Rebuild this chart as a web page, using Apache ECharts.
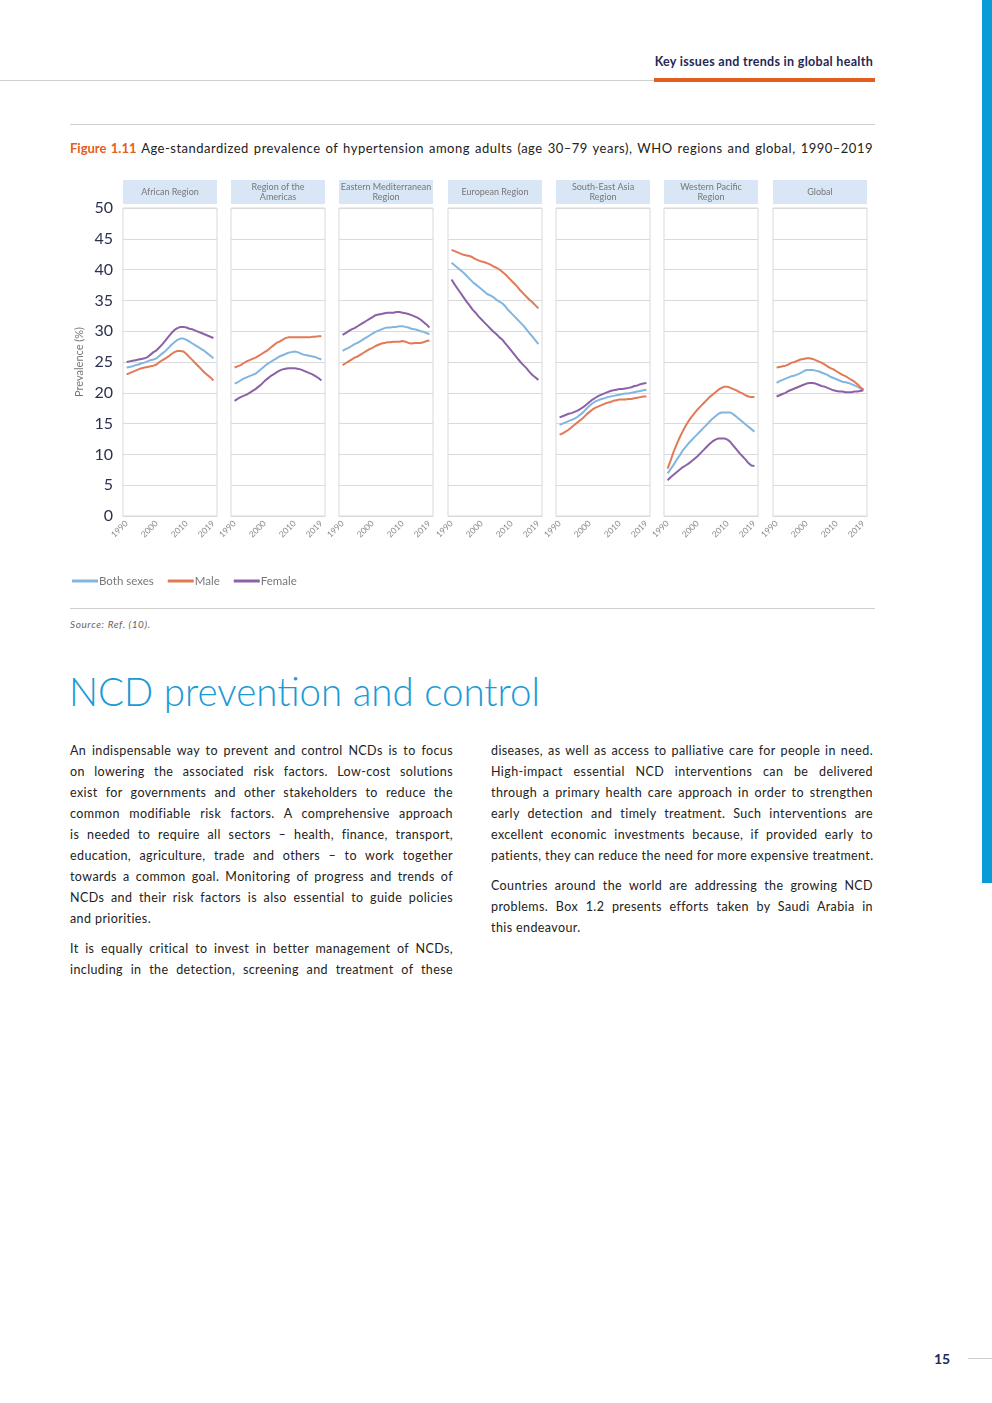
<!DOCTYPE html>
<html><head><meta charset="utf-8">
<script src="https://cdn.jsdelivr.net/npm/echarts@6/dist/echarts.min.js"></script>
<style>
body{margin:0;background:#fff;}
#page{position:relative;width:992px;height:1403px;overflow:hidden;font-family:Lato,"Open Sans",sans-serif;color:#222;}
.abs{position:absolute;}
.ln{position:absolute;white-space:nowrap;text-align:justify;text-align-last:justify;font-size:12.5px;line-height:21px;height:21px;letter-spacing:0.4px;}
.ln.l{text-align-last:left;}
</style></head>
<body><div id="page">
<div class="abs" style="left:982px;top:0;width:10px;height:883px;background:#0a9ad8"></div>
<div class="abs" style="left:500px;width:373px;top:54px;text-align:right;font-size:12.5px;letter-spacing:0.3px;font-weight:bold;color:#1f2855">Key issues and trends in global health</div>
<div class="abs" style="left:0;top:80px;width:875px;height:1px;background:#cfcfcf"></div>
<div class="abs" style="left:654px;top:78px;width:221px;height:4px;background:#e35e1c"></div>
<div class="abs" style="left:70px;top:124px;width:805px;height:1px;background:#cfcfcf"></div>
<div class="ln" style="left:70px;width:803px;top:138px;font-size:13px;letter-spacing:0.5px"><span style="color:#e35e1c;font-weight:bold;letter-spacing:0">Figure 1.11</span> Age-standardized prevalence of hypertension among adults (age 30–79 years), WHO regions and global, 1990–2019</div>
<div id="chart" class="abs" style="left:0;top:170px;width:900px;height:430px"></div>
<div class="abs" style="left:70px;top:608px;width:805px;height:1px;background:#cfcfcf"></div>
<div class="abs" style="left:70px;top:618px;font-size:10px;letter-spacing:0.6px;font-style:italic;color:#666">Source: Ref. (10).</div>
<div class="abs" style="left:69px;top:668px;font-size:38.5px;font-weight:300;color:#1a9ad6;white-space:nowrap">NCD prevention and control</div>

<div class="ln" style="left:70px;width:383px;top:740px">An indispensable way to prevent and control NCDs is to focus</div>
<div class="ln" style="left:70px;width:383px;top:761px">on lowering the associated risk factors. Low-cost solutions</div>
<div class="ln" style="left:70px;width:383px;top:782px">exist for governments and other stakeholders to reduce the</div>
<div class="ln" style="left:70px;width:383px;top:803px">common modifiable risk factors. A comprehensive approach</div>
<div class="ln" style="left:70px;width:383px;top:824px">is needed to require all sectors – health, finance, transport,</div>
<div class="ln" style="left:70px;width:383px;top:845px">education, agriculture, trade and others – to work together</div>
<div class="ln" style="left:70px;width:383px;top:866px">towards a common goal. Monitoring of progress and trends of</div>
<div class="ln" style="left:70px;width:383px;top:887px">NCDs and their risk factors is also essential to guide policies</div>
<div class="ln l" style="left:70px;width:383px;top:908px">and priorities.</div>
<div class="ln" style="left:70px;width:383px;top:938px">It is equally critical to invest in better management of NCDs,</div>
<div class="ln" style="left:70px;width:383px;top:959px">including in the detection, screening and treatment of these</div>

<div class="ln" style="left:491px;width:382px;top:740px">diseases, as well as access to palliative care for people in need.</div>
<div class="ln" style="left:491px;width:382px;top:761px">High-impact essential NCD interventions can be delivered</div>
<div class="ln" style="left:491px;width:382px;top:782px">through a primary health care approach in order to strengthen</div>
<div class="ln" style="left:491px;width:382px;top:803px">early detection and timely treatment. Such interventions are</div>
<div class="ln" style="left:491px;width:382px;top:824px">excellent economic investments because, if provided early to</div>
<div class="ln" style="left:491px;width:382px;top:845px">patients, they can reduce the need for more expensive treatment.</div>
<div class="ln" style="left:491px;width:382px;top:875px">Countries around the world are addressing the growing NCD</div>
<div class="ln" style="left:491px;width:382px;top:896px">problems. Box 1.2 presents efforts taken by Saudi Arabia in</div>
<div class="ln l" style="left:491px;width:382px;top:917px">this endeavour.</div>

<div class="abs" style="left:934px;top:1350px;font-size:14px;font-weight:bold;color:#1f2855">15</div>
<div class="abs" style="left:968px;top:1358px;width:24px;height:1px;background:#cfcfcf"></div>
</div>
<script>
const years = [1990,1991,1992,1993,1994,1995,1996,1997,1998,1999,2000,2001,2002,2003,2004,2005,2006,2007,2008,2009,2010,2011,2012,2013,2014,2015,2016,2017,2018,2019];
const regions = ["African Region","Region of the\nAmericas","Eastern Mediterranean\nRegion","European Region","South-East Asia\nRegion","Western Pacific\nRegion","Global"];
const seriesNames = ["Both sexes","Male","Female"];
const yTicks = [0,5,10,15,20,25,30,35,40,45,50];
const xTickLabels = [1990,2000,2010,2019];

const afrBoth   = [24.1,24.2,24.3,24.5,24.6,24.8,24.9,25.1,25.3,25.4,25.6,26.0,26.4,26.8,27.3,27.8,28.2,28.6,28.8,28.8,28.6,28.3,28.0,27.7,27.4,27.1,26.8,26.4,26.0,25.6];
const afrMale   = [23.0,23.2,23.4,23.6,23.8,24.0,24.1,24.2,24.3,24.4,24.6,25.0,25.3,25.6,25.9,26.3,26.6,26.8,26.8,26.7,26.3,25.8,25.3,24.8,24.3,23.8,23.3,22.9,22.5,22.0];
const afrFemale = [25.0,25.1,25.2,25.3,25.4,25.5,25.6,25.8,26.2,26.6,26.9,27.4,27.9,28.5,29.1,29.7,30.2,30.5,30.7,30.7,30.6,30.4,30.3,30.1,29.9,29.7,29.5,29.3,29.1,28.9];

const amrBoth   = [21.5,21.7,22.0,22.3,22.5,22.7,22.9,23.1,23.5,23.9,24.3,24.7,25.0,25.3,25.6,25.9,26.1,26.3,26.5,26.6,26.7,26.6,26.4,26.2,26.1,26.0,25.9,25.8,25.6,25.4];
const amrMale   = [24.1,24.3,24.5,24.8,25.1,25.3,25.5,25.7,26.0,26.3,26.6,26.9,27.3,27.7,28.1,28.3,28.6,28.9,29.0,29.0,29.0,29.0,29.0,29.0,29.0,29.0,29.1,29.1,29.2,29.2];
const amrFemale = [18.7,19.0,19.3,19.5,19.7,20.0,20.3,20.6,21.0,21.4,21.9,22.3,22.7,23.0,23.3,23.6,23.8,23.9,24.0,24.0,24.0,23.9,23.8,23.6,23.4,23.2,23.0,22.7,22.4,22.0];

const emrBoth   = [26.8,27.1,27.3,27.6,27.9,28.1,28.4,28.7,29.0,29.3,29.6,29.9,30.1,30.3,30.5,30.6,30.6,30.7,30.7,30.8,30.8,30.7,30.6,30.4,30.3,30.2,30.0,29.9,29.7,29.5];
const emrMale   = [24.5,24.8,25.1,25.4,25.7,25.9,26.2,26.5,26.8,27.1,27.3,27.6,27.8,28.0,28.1,28.2,28.2,28.3,28.3,28.3,28.4,28.3,28.1,28.0,28.1,28.1,28.1,28.2,28.4,28.5];
const emrFemale = [29.4,29.7,30.0,30.3,30.5,30.8,31.1,31.4,31.7,32.0,32.3,32.6,32.7,32.8,32.9,33.0,33.0,33.0,33.1,33.1,33.0,32.9,32.8,32.6,32.4,32.2,31.9,31.5,31.1,30.6];

const eurBoth   = [41.1,40.7,40.3,39.9,39.5,39.0,38.5,38.0,37.6,37.2,36.8,36.4,36.0,35.8,35.5,35.1,34.8,34.5,34.0,33.4,32.9,32.4,31.9,31.4,30.9,30.3,29.7,29.1,28.5,27.9];
const eurMale   = [43.2,43.0,42.8,42.6,42.4,42.3,42.2,42.0,41.7,41.5,41.3,41.2,41.0,40.8,40.5,40.3,40.0,39.6,39.2,38.7,38.2,37.7,37.2,36.6,36.1,35.6,35.1,34.7,34.2,33.7];
const eurFemale = [38.4,37.6,36.9,36.2,35.5,34.8,34.2,33.5,33.0,32.4,31.9,31.4,30.9,30.4,29.9,29.5,29.0,28.6,28.0,27.4,26.8,26.2,25.6,25.0,24.5,24.0,23.4,22.9,22.5,22.1];

const searBoth   = [14.8,15.0,15.2,15.4,15.6,15.8,16.1,16.5,16.9,17.4,17.9,18.3,18.6,18.8,19.0,19.1,19.3,19.4,19.5,19.6,19.7,19.8,19.9,19.9,20.0,20.1,20.2,20.3,20.4,20.5];
const searMale   = [13.2,13.4,13.7,14.0,14.4,14.8,15.2,15.6,16.0,16.5,16.9,17.3,17.6,17.8,18.0,18.2,18.4,18.5,18.7,18.8,18.9,18.9,18.9,19.0,19.0,19.1,19.2,19.3,19.4,19.4];
const searFemale = [16.0,16.2,16.4,16.6,16.7,16.9,17.1,17.4,17.7,18.1,18.5,18.9,19.2,19.5,19.7,19.9,20.1,20.3,20.4,20.5,20.6,20.6,20.7,20.8,20.9,21.1,21.2,21.4,21.5,21.6];

const wprBoth   = [6.9,7.6,8.3,9.1,9.8,10.6,11.2,11.8,12.3,12.8,13.3,13.8,14.3,14.8,15.3,15.8,16.2,16.6,16.8,16.8,16.8,16.8,16.5,16.1,15.7,15.3,14.9,14.5,14.1,13.7];
const wprMale   = [7.7,9.0,10.4,11.6,12.7,13.7,14.6,15.4,16.1,16.7,17.3,17.8,18.3,18.8,19.3,19.7,20.1,20.5,20.8,21.0,21.0,20.8,20.6,20.4,20.1,19.9,19.6,19.4,19.3,19.3];
const wprFemale = [5.8,6.3,6.7,7.1,7.5,7.9,8.2,8.5,8.9,9.3,9.7,10.2,10.7,11.2,11.7,12.1,12.4,12.6,12.6,12.6,12.4,12.0,11.4,10.8,10.2,9.7,9.2,8.6,8.2,8.1];

const gloBoth   = [21.6,21.9,22.1,22.3,22.5,22.7,22.8,23.0,23.2,23.5,23.7,23.7,23.7,23.6,23.5,23.3,23.1,22.9,22.6,22.4,22.2,22.0,21.8,21.7,21.6,21.4,21.2,21.0,20.7,20.5];
const gloMale   = [24.1,24.2,24.3,24.4,24.6,24.9,25.0,25.2,25.4,25.5,25.6,25.6,25.5,25.3,25.1,24.9,24.6,24.3,24.0,23.8,23.5,23.2,22.9,22.7,22.4,22.1,21.8,21.4,20.9,20.5];
const gloFemale = [19.4,19.6,19.8,20.0,20.3,20.5,20.7,20.9,21.1,21.3,21.5,21.6,21.6,21.5,21.3,21.1,21.0,20.8,20.6,20.4,20.3,20.2,20.2,20.1,20.1,20.1,20.2,20.2,20.3,20.4];

const panelData = [
  [afrBoth, afrMale, afrFemale],
  [amrBoth, amrMale, amrFemale],
  [emrBoth, emrMale, emrFemale],
  [eurBoth, eurMale, eurFemale],
  [searBoth, searMale, searFemale],
  [wprBoth, wprMale, wprFemale],
  [gloBoth, gloMale, gloFemale]
];

const colors = ['#82b6e0','#e27a57','#8c62a6'];
const FONT = 'Lato, "Open Sans", sans-serif';
const panelLefts = [123,231,339,448,556,664,773];
const panelW = 94, gridTop = 38, gridH = 308;

const grids = [], xAxes = [], yAxes = [], series = [], graphics = [];
panelLefts.forEach((left, i) => {
  grids.push({left: left, top: gridTop, width: panelW, height: gridH, show: true, borderColor: '#d9d9d9', borderWidth: 1, backgroundColor: 'transparent'});
  xAxes.push({
    gridIndex: i, type: 'value', min: 1988.8, max: 2020.2,
    axisLine: {show: true, lineStyle: {color: '#d9d9d9'}},
    axisTick: {show: false},
    splitLine: {show: false},
    axisLabel: {customValues: xTickLabels, formatter: v => String(v), rotate: 45, fontSize: 8.5, color: '#888', margin: 6, fontFamily: FONT}
  });
  yAxes.push({
    gridIndex: i, type: 'value', min: yTicks[0], max: yTicks[yTicks.length-1], interval: 5,
    axisLine: {show: false}, axisTick: {show: false},
    splitLine: {show: true, lineStyle: {color: '#dadada', width: 1}},
    axisLabel: {show: i === 0, fontSize: 16, color: '#2d3150', margin: 10, fontFamily: FONT},
    name: i === 0 ? 'Prevalence (%)' : '', nameLocation: 'middle', nameGap: 38,
    nameTextStyle: {fontSize: 11, color: '#777', fontFamily: FONT}
  });
  panelData[i].forEach((vals, s) => {
    series.push({
      name: seriesNames[s], type: 'line', xAxisIndex: i, yAxisIndex: i,
      data: years.map((y, k) => [y, vals[k]]),
      symbol: 'none', color: colors[s], lineStyle: {width: 2, color: colors[s]}, silent: true, animation: false
    });
  });
  graphics.push({type: 'rect', shape: {x: left, y: 10, width: panelW, height: 24}, style: {fill: '#d9e6f6'}});
  graphics.push({type: 'text', x: left + panelW/2, y: 22, style: {text: regions[i], align: 'center', verticalAlign: 'middle', fontSize: 9, lineHeight: 10, fill: '#777', fontFamily: FONT}});
});

const chart = echarts.init(document.getElementById('chart'), null, {renderer: 'canvas'});
chart.setOption({
  animation: false,
  grid: grids, xAxis: xAxes, yAxis: yAxes, series: series, graphic: graphics,
  legend: {
    data: seriesNames, left: 67, top: 400, icon: 'rect', itemWidth: 26, itemHeight: 3, itemGap: 14,
    textStyle: {fontSize: 11.5, color: '#777', fontFamily: FONT, padding: [0,0,0,-4]}
  }
});
</script>
</body></html>
